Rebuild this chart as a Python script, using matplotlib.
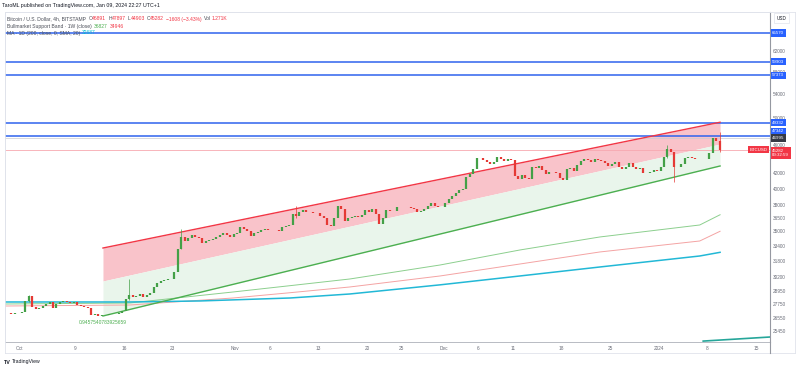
import matplotlib
matplotlib.use('Agg')
import matplotlib.pyplot as plt
import numpy as np
from matplotlib.lines import Line2D
from matplotlib.ticker import NullLocator

plt.rcParams['font.family'] = ['Liberation Sans', 'DejaVu Sans']

# x axis is "days since 2023-10-01 00:00 UTC"
start_day = -2.0  # first 12h candle: Sep 29 00:00
closes = [
    26950, 26900, 27000, 26970, 27050, 27980, 28450, 27520, 27300, 27430,
    27550, 27780, 27900, 27410, 27700, 27930, 27980, 27960, 27850, 27930,
    27650, 27590, 27450, 27390, 26800, 26870, 26700, 26750, 26800, 26860,
    26880, 26860, 26950, 27160, 28200, 28500, 28400, 28410, 28600, 28330,
    28550, 28720, 29300, 29680, 29850, 29910, 30000, 29990, 30700, 33080,
    34300, 33900, 34200, 34500, 34350, 34160, 33700, 33910, 34000, 34090,
    34300, 34540, 34700, 34500, 34300, 34670, 34800, 35440, 35200, 34940,
    34400, 34730, 34900, 35080, 35200, 35050, 35100, 35050, 35000, 35420,
    35500, 35650, 36900, 36700, 37100, 37330, 37200, 37140, 37000, 37070,
    36700, 36480, 35700, 35550, 36500, 37880, 37500, 36160, 36400, 36600,
    36700, 36580, 36800, 37380, 37200, 37470, 36900, 35810, 36500, 37420,
    37300, 37290, 37800, 37720, 37750, 37800, 37600, 37480, 37100, 37250,
    37500, 37830, 38200, 37860, 37800, 37720, 38200, 38690, 39100, 39460,
    39800, 39970, 41500, 41980, 42600, 44080, 44100, 43770, 43500, 43290,
    43600, 44170, 44000, 43720, 43900, 43790, 41600, 41240, 41800, 41450,
    41200, 42890, 42700, 43020, 42400, 41930, 42200, 42240, 42000, 41360,
    41100, 42650, 42700, 42270, 43100, 43650, 43900, 43860, 43600, 43990,
    43800, 43740, 43400, 43010, 43200, 43600, 42800, 42520, 42900, 43440,
    42900, 42580, 42700, 42070, 42100, 42140, 42500, 42280, 42900, 44180,
    45400, 44950, 42800, 42840, 43300, 44150, 44200, 44160, 43900, 43970,
    44000, 43930, 44800, 46970, 46600, 45282,
]
wick_days = [1.0, 15.5, 23.0, 39.5, 93.0, 94.0, 100.5]
wick_high = [28580, 30000, 35200, 37900, 45900, 45000, 47897]
wick_low = [27900, 28100, 33000, 36500, 44100, 40800, 44903]

# regression channel
chan_days = [11.95, 100.83]
chan_upper = [33137, 49400]
chan_mid = [29843, 46101]
chan_lower = [26705, 42994]
pearson = "0.9457540783925659"

# indicators
ma_days = [-2.2, 15.8, 25.9, 38.9, 47.5, 60.5, 72.0, 83.5, 97.9, 100.83]
ma200 = [27919, 27919, 28009, 28275, 28637, 29480, 30322, 31198, 32308, 32687]
band_days = [-2.2, 15.8, 30.7, 38.5, 47.5, 60.5, 72.0, 83.5, 97.9, 100.83]
band_sma = [27740, 27830, 28820, 29374, 30033, 31397, 32930, 34317, 35650, 36827]
band_ema = [27564, 27652, 28275, 28729, 29281, 30322, 31496, 32722, 33884, 34946]
bottom_days = [98.4, 108.0]
bottom_vals = [24660, 24980]

levels = [65570, 59903, 57373, 49332, 47342]
last_price = 45282
prev_mark = 46995

ytick_vals = [62000, 58000, 54000, 50000, 46000, 42000, 40000, 38000, 36500,
              35000, 33400, 31800, 30200, 28950, 27750, 26550, 25450]
xtick_days = [0, 8, 15, 22, 31, 36, 43, 50, 55, 61, 66, 71, 78, 85, 92, 99, 106]
xtick_labels = ["Oct", "9", "16", "23", "Nov", "6", "13", "20", "25", "Dec",
                "6", "11", "18", "25", "2024", "8", "15"]

UP, DOWN = '#43a047', '#e53935'
BLUE = '#2f63ee'
GRAY = '#6a6d78'
W, H = 800, 370


def fx(px):
    return px / W


def fy(py):
    return 1 - py / H


fig = plt.figure(figsize=(W / 100, H / 100), dpi=100)
ax = fig.add_axes([fx(5), fy(342), fx(770) - fx(5), fy(12) - fy(342)])
ax.set_yscale('log')
ax.set_ylim(24588, 70100)
ax.set_xlim(-2.16, 108.02)

# channel
ax.fill_between(chan_days, chan_upper, chan_mid, color='#f9c3ca', lw=0, zorder=1)
ax.fill_between(chan_days, chan_mid, chan_lower, color='#e9f5eb', lw=0, zorder=1)
ax.plot(chan_days, chan_upper, color='#f23645', lw=1.0, zorder=4)
ax.plot(chan_days, chan_lower, color='#4caf50', lw=1.0, zorder=4)
ax.annotate(pearson, (chan_days[0], chan_lower[0]), xytext=(0, -5),
            textcoords='offset points', ha='center', va='center',
            fontsize=3.5, color='#4caf50')

# horizontal levels
for lvl in levels:
    ax.axhline(lvl, color=BLUE, lw=1.1, zorder=3)
ax.axhline(prev_mark, color='#c9cbd1', lw=0.5, zorder=2)
ax.axhline(last_price, color='#f7a8b0', lw=0.6, zorder=2)

# indicators
ax.plot(band_days, band_sma, color='#8ccf8e', lw=0.7, zorder=3)
ax.plot(band_days, band_ema, color='#f4a3a3', lw=0.7, zorder=3)
ax.plot(ma_days, ma200, color='#22b8d6', lw=1.1, zorder=3)
ax.plot(bottom_days, bottom_vals, color='#26a69a', lw=1.2, zorder=3)

# candles (12h)
c = np.array(closes, dtype=float)
o = np.concatenate([[c[0]], c[:-1]])
t = start_day + 0.5 * np.arange(len(c)) + 0.25
cols = [UP if cc >= oo else DOWN for oo, cc in zip(o, c)]
wick_cols = [cols[int(round((d - start_day) / 0.5))] for d in wick_days]
ax.vlines(np.array(wick_days) + 0.25, wick_low, wick_high, colors=wick_cols,
          lw=0.5, zorder=5)
ax.vlines(t, np.minimum(o, c), np.maximum(o, c), colors=cols, lw=1.6, zorder=6)

# axes styling
ax.yaxis.set_minor_locator(NullLocator())
ax.yaxis.tick_right()
ax.set_yticks(ytick_vals, [str(v) for v in ytick_vals])
ax.tick_params(axis='y', length=0, pad=2.2, labelsize=3.4, labelcolor=GRAY)
ax.set_xticks(xtick_days, xtick_labels)
ax.tick_params(axis='x', length=0, pad=3.0, labelsize=3.4, labelcolor=GRAY)
for side in ['left', 'top']:
    ax.spines[side].set_color('#e0e3eb')
    ax.spines[side].set_linewidth(0.6)
ax.spines['bottom'].set_color('#b8bbc3')
ax.spines['bottom'].set_linewidth(0.7)
ax.spines['right'].set_color('#9598a1')
ax.spines['right'].set_linewidth(0.8)


def price_tag(val, text, face, dy=0.0, dx=1.5, ha='left', tc='white'):
    ax.annotate(text, xy=(1, val), xycoords=('axes fraction', 'data'),
                xytext=(dx, dy), textcoords='offset points', ha=ha, va='center',
                fontsize=3.2, color=tc, linespacing=1.1,
                bbox=dict(boxstyle='square,pad=0.35', fc=face, ec='none'),
                zorder=10, annotation_clip=False)


for lvl in levels:
    price_tag(lvl, str(lvl), '#2962ff', dy=3.0 if lvl == 47342 else 0.0)
price_tag(prev_mark, str(prev_mark), '#363a45')
price_tag(last_price, f"{last_price}\n00:32:59", '#f23645', dy=-2.4)
price_tag(last_price, "BTCUSD", '#f23645', dx=-1.8, ha='right')

# frame around chart + axis strips
frame = '#e0e3eb'
for xs, ys in [([5, 795], [12, 12]), ([5, 795], [353, 353]),
               ([5, 5], [12, 353]), ([795, 795], [12, 353])]:
    fig.add_artist(Line2D([fx(x) for x in xs], [fy(y) for y in ys],
                          color=frame, lw=0.6))
fig.add_artist(Line2D([fx(770), fx(770)], [fy(342), fy(353)], color='#9598a1', lw=0.8))

fig.text(fx(781.5), fy(18), 'USD', ha='center', va='center', fontsize=3.3,
         color='#131722', bbox=dict(boxstyle='square,pad=0.5', fc='white', ec=frame, lw=0.5))

renderer = fig.canvas.get_renderer()


def text_run(x_px, y_px, parts, size=3.65):
    x = x_px
    for s, col, gap in parts:
        tx = fig.text(fx(x), fy(y_px), s, color=col, fontsize=size, ha='left', va='center')
        x += tx.get_window_extent(renderer).width + gap


DARK = '#4a4d57'
RED = '#f23645'
text_run(2, 6, [("TaroML published on TradingView.com, Jan 09, 2024 22:27 UTC+1", '#131722', 0)], 3.75)
text_run(7, 19, [("Bitcoin / U.S. Dollar, 4h, BITSTAMP", DARK, 2.5),
                 ("O", DARK, 0), ("46891", RED, 2), ("H", DARK, 0), ("47897", RED, 2),
                 ("L", DARK, 0), ("44903", RED, 2), ("C", DARK, 0), ("45282", RED, 2),
                 ("\u22121608 (\u22123.43%)", RED, 2.5), ("Vol", DARK, 0), ("1.271K", RED, 0)])
text_run(7, 26.5, [("Bullmarket Support Band \u00b7 1W (close)", DARK, 2),
                   ("36827", '#4caf50', 2), ("34946", RED, 0)])
text_run(7, 33, [("MA \u00b7 1D (200, close, 0, SMA, 20)", DARK, 2), ("32687", '#00bcd4', 0)])

fig.text(fx(4), fy(362), "TV", fontsize=3.9, fontweight='bold', color='#131722', va='center')
fig.text(fx(11.5), fy(362), "TradingView", fontsize=3.7, color='#131722', va='center')

fig.savefig('out.png', dpi=100)
